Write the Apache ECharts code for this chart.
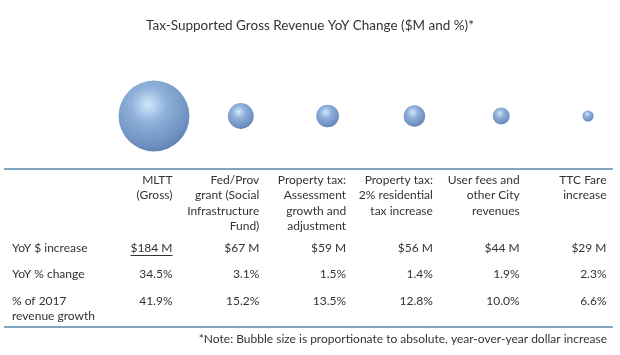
<!DOCTYPE html>
<html><head><meta charset="utf-8">
<script src="https://cdn.jsdelivr.net/npm/echarts@6/dist/echarts.min.js"></script>
<style>html,body{margin:0;padding:0;background:#fff}#c{width:620px;height:355px}</style>
</head><body><div id="c"></div>
<script>
const title = 'Tax-Supported Gross Revenue YoY Change ($M and %)*';
const categories = ['MLTT\n(Gross)', 'Fed/Prov\ngrant (Social\nInfrastructure\nFund)', 'Property tax:\nAssessment\ngrowth and\nadjustment', 'Property tax:\n2% residential\ntax increase', 'User fees and\nother City\nrevenues', 'TTC Fare\nincrease'];
const yoyDollar = [184, 67, 59, 56, 44, 29];
const yoyPct = [34.5, 3.1, 1.5, 1.4, 1.9, 2.3];
const shareOfGrowth = [41.9, 15.2, 13.5, 12.8, 10.0, 6.6];
const rowLabels = ['YoY $ increase', 'YoY % change', '% of 2017\nrevenue growth'];
const note = '*Note: Bubble size is proportionate to absolute, year-over-year dollar increase';

const FONT = 'Lato';
const TXT = '#333333';
const chart = echarts.init(document.getElementById('c'));
const bubbleColor = new echarts.graphic.RadialGradient(0.42, 0.34, 0.72, [
  {offset: 0, color: '#cfe8fc'},
  {offset: 0.35, color: '#8fb0da'},
  {offset: 0.8, color: '#6e91c1'},
  {offset: 1, color: '#5b7dab'}
]);
chart.setOption({
  animation: false,
  title: {text: title, left: 'center', top: 14, textStyle: {fontFamily: FONT, fontSize: 13.5, fontWeight: 'normal', color: TXT}},
  grid: {left: 154, right: 32, top: 66, height: 100},
  xAxis: {type: 'category', data: categories, boundaryGap: false, show: false},
  yAxis: {type: 'value', min: 0, max: 2, show: false},
  series: [{
    type: 'scatter',
    data: yoyDollar.map(v => 1),
    symbolSize: (val, p) => yoyDollar[p.dataIndex] * 0.385,
    itemStyle: {color: bubbleColor, opacity: 1},
    silent: true
  }]
});

const ctx = document.createElement('canvas').getContext('2d');
ctx.font = '12px ' + FONT;
const els = [];
const rule = (y) => ({type: 'line', shape: {x1: 4, y1: y, x2: 613, y2: y}, style: {stroke: '#7fa6c0', lineWidth: 2}});
els.push(rule(169), rule(327));
const txt = (x, y, text, align, vAlign, size) => ({type: 'text', x: x, y: y, style: {text: text, fill: TXT, font: (size || 12) + 'px ' + FONT, textAlign: align, textVerticalAlign: vAlign, lineHeight: 15.3}});
const rowY = [248, 274, 301];
rowLabels.forEach((t, i) => els.push(txt(12, rowY[i] - 7.6, t, 'left', 'top')));
categories.forEach((c, i) => {
  const cx = chart.convertToPixel({xAxisIndex: 0}, i) + 18.5;
  els.push(txt(cx, 172.5, c, 'right', 'top'));
  const d = '$' + yoyDollar[i] + ' M';
  els.push(txt(cx, rowY[0] - 7.6, d, 'right', 'top'));
  els.push(txt(cx, rowY[1] - 7.6, yoyPct[i].toFixed(1) + '%', 'right', 'top'));
  els.push(txt(cx, rowY[2] - 7.6, shareOfGrowth[i].toFixed(1) + '%', 'right', 'top'));
  if (i === 0) {
    const w = ctx.measureText(d).width;
    els.push({type: 'line', shape: {x1: cx - w, y1: 255.5, x2: cx, y2: 255.5}, style: {stroke: TXT, lineWidth: 1}});
  }
});
els.push(txt(607, 339 - 7.6, note, 'right', 'top'));
chart.setOption({graphic: {elements: els}});
</script></body></html>
